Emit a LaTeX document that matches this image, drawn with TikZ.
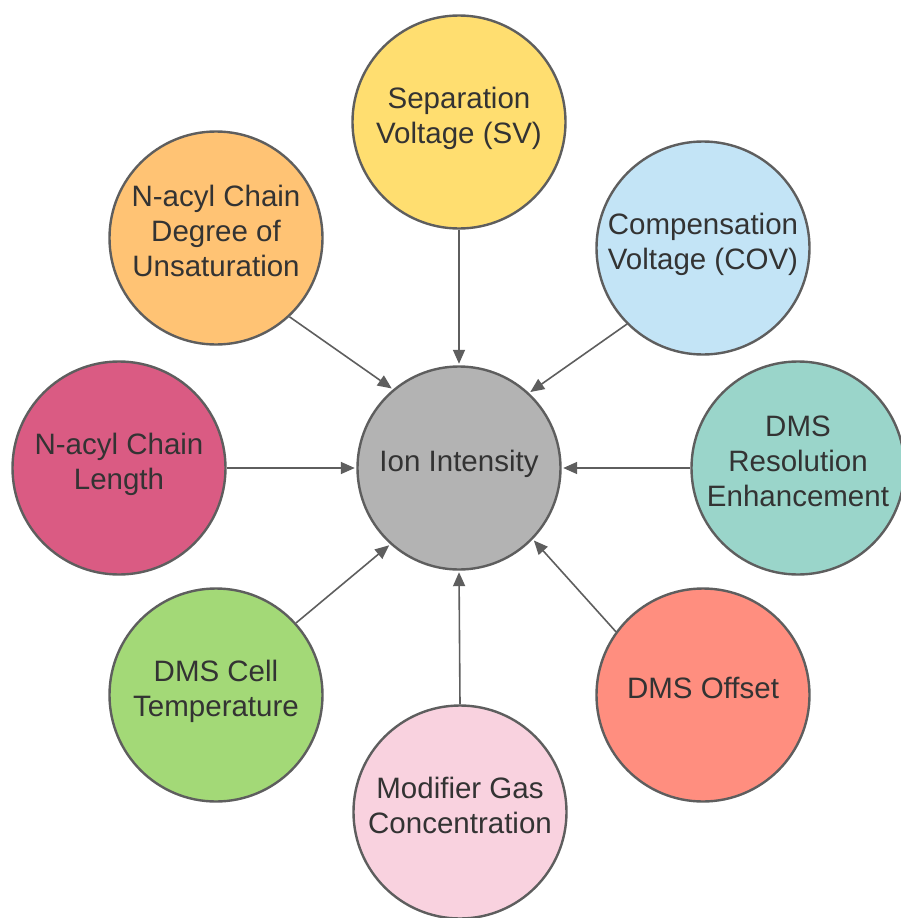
\documentclass[tikz,border=0pt]{standalone}
\usepackage{fontspec}
\setmainfont{Liberation Sans}
\usetikzlibrary{arrows.meta}
\definecolor{bordergray}{HTML}{5E5E5E}
\definecolor{textgray}{HTML}{333333}
\definecolor{fillyellow}{HTML}{FFDE70}
\definecolor{fillblue}{HTML}{C3E4F6}
\definecolor{fillteal}{HTML}{9AD5CA}
\definecolor{fillsalmon}{HTML}{FF8E7F}
\definecolor{fillpink}{HTML}{F9D2DF}
\definecolor{fillgreen}{HTML}{A3D977}
\definecolor{fillmagenta}{HTML}{DA5B83}
\definecolor{fillorange}{HTML}{FFC374}
\definecolor{fillgray}{HTML}{B3B3B3}
\newcommand{\uptext}[1]{\raisebox{3.5pt}[\height][\depth]{\begin{tabular}{@{}c@{}}#1\end{tabular}}}
\tikzset{
  bubble/.style={circle, draw=bordergray, line width=2.4pt, minimum size=213pt,
    inner sep=0pt, text=textgray,
    font=\fontsize{29.5}{35}\selectfont},
  hub/.style={bubble, minimum size=203pt},
  link/.style={draw=bordergray, line width=1.6pt,
    -{Triangle[length=14pt,width=12pt]}, shorten >=1.5pt}
}
\begin{document}
\begin{tikzpicture}[x=1pt,y=-1pt]
\useasboundingbox (0,0) rectangle (901,918);
\node[hub, fill=fillgray] (ion) at (459,468) {\uptext{Ion Intensity}};
\node[bubble, fill=fillyellow] (sv) at (459,122) {\uptext{Separation\\Voltage (SV)}};
\node[bubble, fill=fillblue] (cov) at (703,248) {\uptext{Compensation\\Voltage (COV)}};
\node[bubble, fill=fillteal] (res) at (798,468) {\uptext{DMS\\Resolution\\Enhancement}};
\node[bubble, fill=fillsalmon] (off) at (703,695) {\uptext{DMS Offset}};
\node[bubble, fill=fillpink] (gas) at (460,812) {\uptext{Modifier Gas\\Concentration}};
\node[bubble, fill=fillgreen] (temp) at (216,695) {\uptext{DMS Cell\\Temperature}};
\node[bubble, fill=fillmagenta] (len) at (119,468) {\uptext{N-acyl Chain\\Length}};
\node[bubble, fill=fillorange] (deg) at (216,238) {\uptext{N-acyl Chain\\Degree of\\Unsaturation}};
\draw[link] (sv.south) -- (ion.north);
\draw[link] (cov.225) -- (ion.47);
\draw[link] (res.west) -- (ion.east);
\draw[link] (off.144) -- (ion.316);
\draw[link] (gas.north) -- (ion.south);
\draw[link] (temp.42) -- (ion.228);
\draw[link] (len.east) -- (ion.west);
\draw[link] (deg.313) -- (ion.130);
\end{tikzpicture}
\end{document}
